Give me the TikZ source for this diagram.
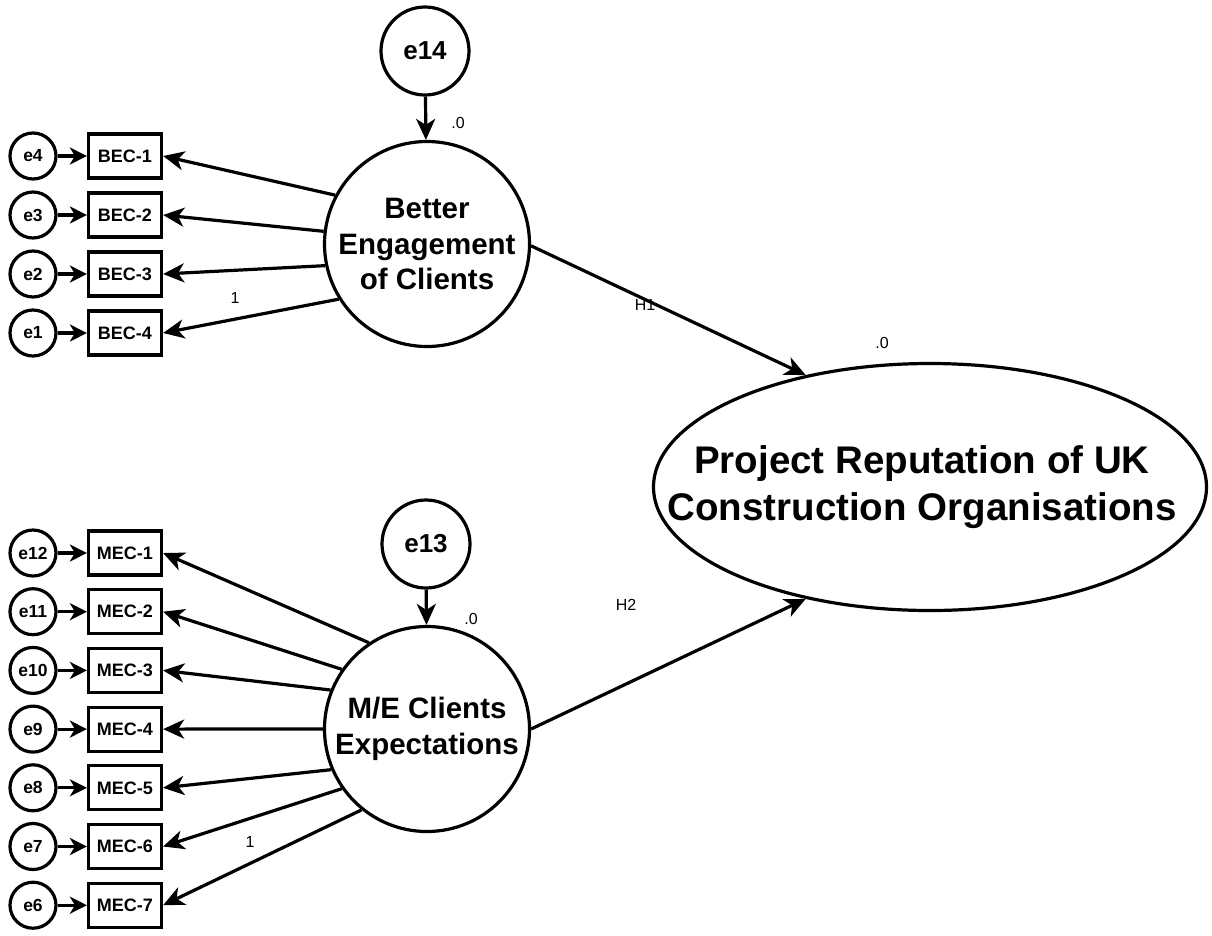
\documentclass[tikz,border=0pt]{standalone}
\usepackage{fontspec}
\setmainfont{Liberation Sans}
\usetikzlibrary{arrows.meta,shapes.geometric}
\begin{document}
\begin{tikzpicture}[x=1pt,y=-1pt,
  lw/.style={line width=3.2pt},
  latent/.style={circle,draw,lw,minimum size=205pt,inner sep=0pt,align=center,font=\bfseries\fontsize{29.5}{35.5}\selectfont},
  errbig/.style={circle,draw,lw,minimum size=88pt,inner sep=0pt,font=\bfseries\fontsize{26}{30}\selectfont},
  errsm/.style={circle,draw,lw,minimum size=46pt,inner sep=0pt,font=\bfseries\fontsize{17.5}{20}\selectfont},
  ind/.style={rectangle,draw,lw,minimum width=73pt,minimum height=44pt,inner sep=0pt,font=\bfseries\fontsize{18}{20}\selectfont},
  conn/.style={lw,-{Stealth[length=21pt,width=19pt,inset=6pt]}},
  errarr/.style={lw,-{Stealth[length=17pt,width=17pt,inset=5pt]}},
  lab/.style={font=\fontsize{16}{18}\selectfont,inner sep=0pt}
]
\path[use as bounding box] (0,0) rectangle (1212,935);

% latent variables
\node[latent] (BEC) at (427,244) {Better\\Engagement\\of Clients};
\node[latent] (ME) at (427,729) {M/E Clients\\Expectations};
\node[ellipse,draw,lw,minimum width=553pt,minimum height=247pt,inner sep=0pt] (PR) at (930,487) {};
\node[align=center,inner sep=0pt,font=\bfseries\fontsize{38.5}{47}\selectfont] (PRt) at (922,487)
      {Project Reputation of UK\\Construction Organisations};

% structural errors
\node[errbig] (e14) at (425,51) {e14};
\node[errbig] (e13) at (426,544) {e13};

% BEC indicators
\node[ind] (b1) at (125,156) {BEC-1};
\node[ind] (b2) at (125,215) {BEC-2};
\node[ind] (b3) at (125,274) {BEC-3};
\node[ind] (b4) at (125,333) {BEC-4};
\node[errsm] (e4) at (33,156) {e4};
\node[errsm] (e3) at (33,215) {e3};
\node[errsm] (e2) at (33,274) {e2};
\node[errsm] (e1) at (33,333) {e1};

% MEC indicators
\node[ind] (m1) at (125,553) {MEC-1};
\node[ind] (m2) at (125,611.7) {MEC-2};
\node[ind] (m3) at (125,670.4) {MEC-3};
\node[ind] (m4) at (125,729.1) {MEC-4};
\node[ind] (m5) at (125,787.8) {MEC-5};
\node[ind] (m6) at (125,846.5) {MEC-6};
\node[ind] (m7) at (125,905.2) {MEC-7};
\node[errsm] (e12) at (33,553) {e12};
\node[errsm] (e11) at (33,611.7) {e11};
\node[errsm] (e10) at (33,670.4) {e10};
\node[errsm] (e9) at (33,729.1) {e9};
\node[errsm] (e8) at (33,787.8) {e8};
\node[errsm] (e7) at (33,846.5) {e7};
\node[errsm] (e6) at (33,905.2) {e6};

% error -> indicator arrows
\foreach \e/\b in {e4/b1,e3/b2,e2/b3,e1/b4,e12/m1,e11/m2,e10/m3,e9/m4,e8/m5,e7/m6,e6/m7}
  \draw[errarr] (\e) -- (\b);

% latent -> indicator arrows
\draw[conn] (BEC.152.5) -- (b1.east);
\draw[conn] (BEC.173.2) -- (b2.east);
\draw[conn] (BEC.192.3) -- (b3.east);
\draw[conn] (BEC.212.7) -- (b4.east);
\draw[conn] (ME.124.9) -- (m1.east);
\draw[conn] (ME.145.2) -- (m2.east);
\draw[conn] (ME.158.9) -- (m3.east);
\draw[conn] (ME.180) -- (m4.east);
\draw[conn] (ME.203.1) -- (m5.east);
\draw[conn] (ME.215.1) -- (m6.east);
\draw[conn] (ME.231.4) -- (m7.east);

% structural error arrows
\draw[conn] (e14) -- (BEC);
\draw[conn] (e13) -- (ME);

% structural paths
\draw[conn] (BEC.-1) -- (PR.138.9);
\draw[conn] (ME.0) -- (PR.222.8);

% labels
\node[lab] (l0a) at (458,123) {.0};
\node[lab] (l0b) at (471,619) {.0};
\node[lab] (l0c) at (882,343) {.0};
\node[lab] (lH1) at (645,305) {H1};
\node[lab] (lH2) at (626,605) {H2};
\node[lab] (l1a) at (235,298) {1};
\node[lab] (l1b) at (250,842) {1};
\end{tikzpicture}
\end{document}
